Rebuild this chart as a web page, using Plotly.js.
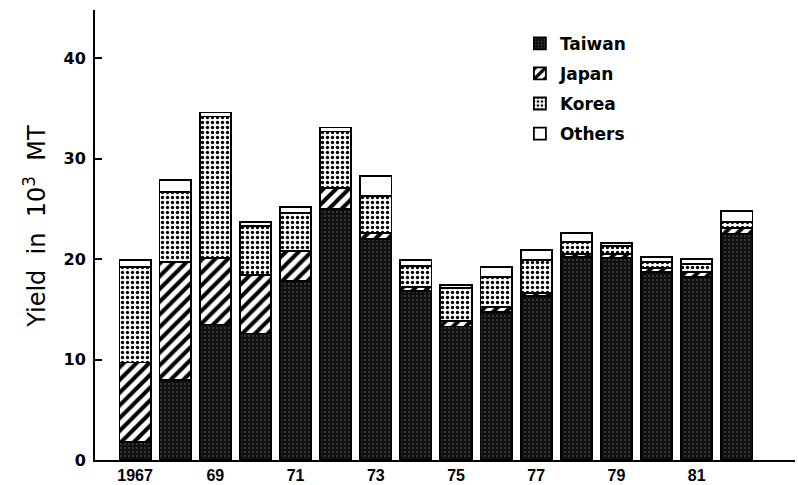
<!DOCTYPE html>
<html>
<head>
<meta charset="utf-8">
<script src="https://cdn.plot.ly/plotly-3.0.1.min.js"></script>
<style>html,body{margin:0;padding:0;background:#fff;}#chart{width:798px;height:485px;}</style>
</head>
<body>
<div id="chart"></div>
<script>
const years = [1967,1968,1969,1970,1971,1972,1973,1974,1975,1976,1977,1978,1979,1980,1981,1982];
const taiwan = [1.8,8.0,13.5,12.6,17.8,25.0,22.0,16.8,13.3,14.7,16.3,20.2,20.1,18.7,18.2,22.5];
const japan  = [7.9,11.7,6.6,5.8,3.0,2.1,0.6,0.4,0.5,0.5,0.3,0.3,0.4,0.4,0.5,0.6];
const korea  = [9.5,7.0,14.1,4.9,3.8,5.6,3.7,2.1,3.3,3.0,3.3,1.2,0.8,0.6,0.8,0.6];
const others = [0.7,1.2,0.4,0.4,0.6,0.4,2.0,0.6,0.3,1.0,1.0,0.9,0.3,0.5,0.5,1.1];
const tickYears = [1967,1969,1971,1973,1975,1977,1979,1981];
const tickLabels = ["1967","69","71","73","75","77","79","81"];
const yTicks = [0,10,20,30,40];

const line = {color:'#000', width:1.8};
function tr(name, vals, pattern, color){
  return {type:'bar', name:name, x:years, y:vals, width:0.78, legendgroup:name,
    marker:{color:color, line:line, pattern:pattern}};
}
const data = [
  tr('Taiwan', taiwan, {shape:'.', fgcolor:'#6e6e6e', bgcolor:'#101010', size:4, solidity:0.1}, '#101010'),
  tr('Japan', japan, {shape:'/', fgcolor:'#000', bgcolor:'#fff', size:9, solidity:0.45}, '#fff'),
  tr('Korea', korea, {shape:'.', fgcolor:'#000', bgcolor:'#fff', size:5, solidity:0.35}, '#fff'),
  tr('Others', others, {shape:''}, '#fff')
];
const font = 'DejaVu Sans, Liberation Sans, sans-serif';
const layout = {
  width:798, height:485,
  margin:{l:95, r:3, t:10, b:25},
  paper_bgcolor:'#fff', plot_bgcolor:'#fff',
  barmode:'stack', bargap:0.22,
  showlegend:true,
  legend:{x:0.607, y:0.965, xanchor:'left', yanchor:'top', traceorder:'grouped',
    tracegroupgap:5, bgcolor:'rgba(0,0,0,0)',
    font:{family:font, size:17, color:'#000', weight:'bold'}},
  xaxis:{range:[1966,1983.45], showline:true, linecolor:'#000', linewidth:2,
    showgrid:false, zeroline:false, ticks:'', tickvals:tickYears, ticktext:tickLabels,
    tickfont:{family:'Liberation Sans Narrow, Liberation Sans, sans-serif', size:16, color:'#000', weight:'bold'}},
  yaxis:{range:[0,44.8], showline:true, linecolor:'#000', linewidth:2, showgrid:false,
    zeroline:false, ticks:'inside', ticklen:7, tickwidth:2, tickcolor:'#000',
    tickvals:yTicks, ticklabelstandoff:4,
    tickfont:{family:font, size:16, color:'#000', weight:'bold'}},
  annotations:[{xref:'paper', yref:'paper', x:-0.086, y:0.52, xanchor:'center', yanchor:'middle',
    textangle:-90, showarrow:false,
    text:'Yield&nbsp;&nbsp;in&nbsp;&nbsp;10<sup>3</sup>&nbsp;&nbsp;MT',
    font:{family:font, size:24, color:'#000', weight:500}}]
};
Plotly.newPlot('chart', data, layout, {displayModeBar:false, staticPlot:true});
</script>
</body>
</html>
